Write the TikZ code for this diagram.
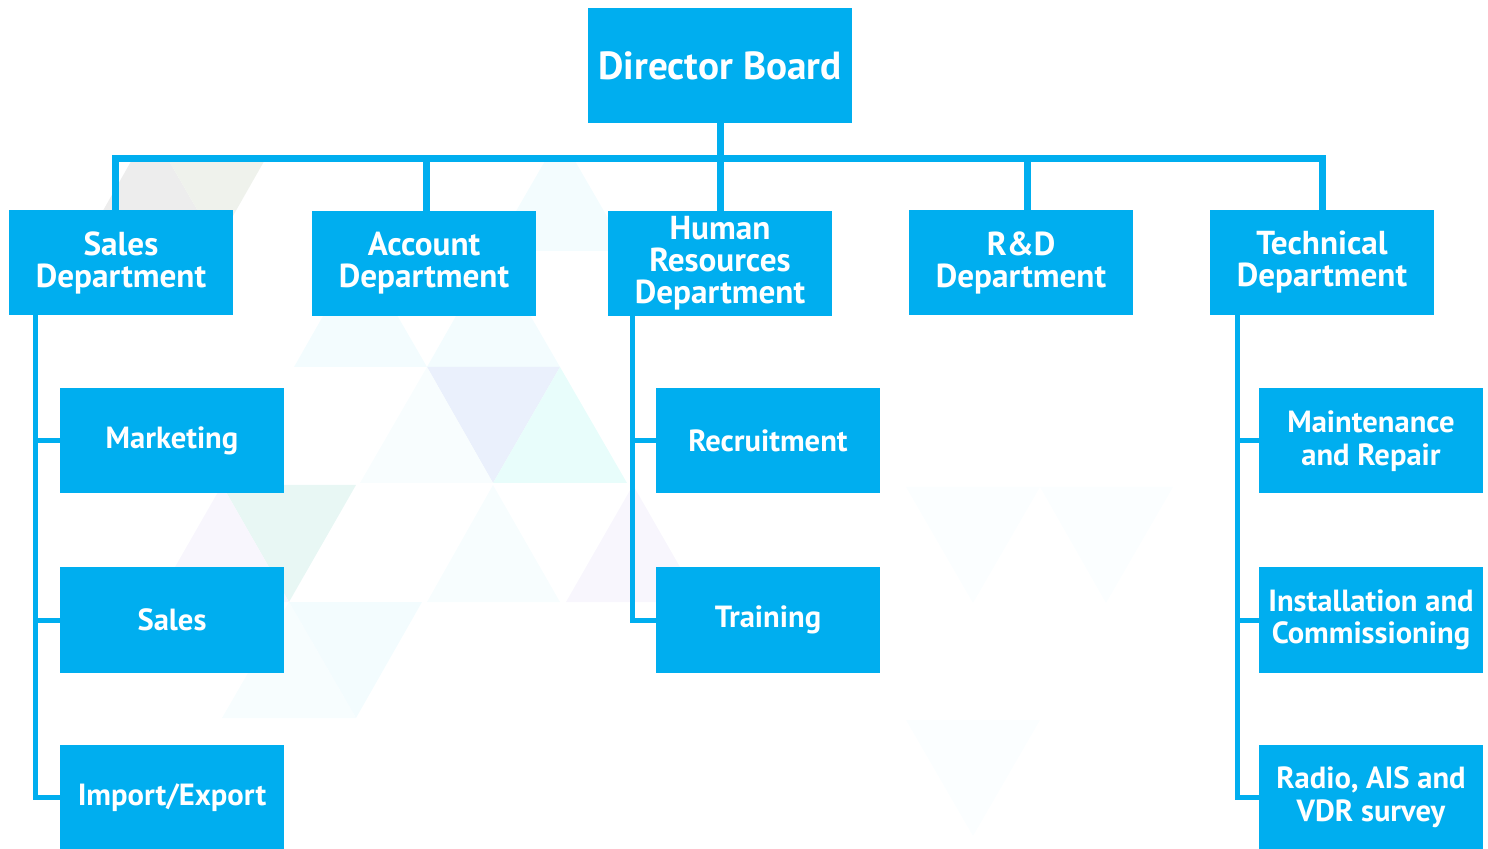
\documentclass[tikz,border=0pt]{standalone}
\usepackage{fontspec}
\setmainfont{PT Sans}
\usetikzlibrary{positioning}
\definecolor{boxblue}{HTML}{00AEEF}
\definecolor{lilac}{HTML}{EAF0FC}
\definecolor{mint}{HTML}{E8FDFB}
\definecolor{sage}{HTML}{E8F7F4}
\definecolor{mist}{HTML}{F8F6FD}
\definecolor{pale}{HTML}{F3FCFE}
\definecolor{greyA}{HTML}{EDEDED}
\definecolor{greyB}{HTML}{EFF2EC}

\begin{document}
\begin{tikzpicture}[
    x=0.5pt, y=-0.5pt,
    box/.style={%
      fill=boxblue,
      text=white,
      font=\bfseries\fontsize{16.6}{16}\selectfont,
      align=center,
      inner sep=0pt,
      minimum width=112pt,
      minimum height=52.5pt,
    },
    unit/.style={%
      box,
      font=\bfseries\fontsize{15.3}{16.3}\selectfont,
    },
    head/.style={%
      box,
      font=\bfseries\fontsize{19.6}{20}\selectfont,
      minimum width=132pt,
      minimum height=57.5pt,
    },
    link/.style={%
      draw=boxblue,
      line width=3.5pt,
    },
    spine/.style={%
      draw=boxblue,
      line width=2.5pt,
    },
  ]

    \useasboundingbox (0,0) rectangle (1488,849);

    % faint triangle pattern behind the chart
    \begin{scope}
      \clip (0,163) rectangle (1488,849);
      \fill[greyA] (84,244) -- (150,128) -- (217,244) -- cycle;
      \fill[greyB] (150,128) -- (283,128) -- (217,244) -- cycle;
      \fill[pale] (493,251) -- (560,135) -- (627,251) -- cycle;
      \fill[pale] (427,367) -- (493,251) -- (560,367) -- cycle;
      \fill[pale] (294,367) -- (360,251) -- (427,367) -- cycle;
      \fill[lilac] (427,367) -- (560,367) -- (493,483) -- cycle;
      \fill[mint] (493,483) -- (560,367) -- (627,483) -- cycle;
      \fill[pale!60] (360,483) -- (427,367) -- (493,483) -- cycle;
      \fill[sage] (222,485) -- (356,485) -- (289,602) -- cycle;
      \fill[mist] (155,602) -- (222,485) -- (289,602) -- cycle;
      \fill[mist] (566,602) -- (633,485) -- (700,602) -- cycle;
      \fill[pale!70] (427,602) -- (493,485) -- (560,602) -- cycle;
      \fill[pale] (289,602) -- (422,602) -- (356,718) -- cycle;
      \fill[pale!70] (222,718) -- (289,602) -- (356,718) -- cycle;
      \fill[pale!35] (906,487) -- (1040,487) -- (973,603) -- cycle;
      \fill[pale!35] (1040,487) -- (1173,487) -- (1106,603) -- cycle;
      \fill[pale!35] (906,720) -- (1040,720) -- (973,836) -- cycle;
    \end{scope}

    \node [head] (board) at (720,65.5) {Director Board};

    \node [box] (salesD) at (121,262.5) {Sales\\Department};
    \node [box] (acctD) at (424,263.5) {Account\\Department};
    \node [box] (hrD) at (720,263.5) {Human\\Resources\\Department};
    \node [box] (rdD) at (1021,262.5) {R\&D\\Department};
    \node [box] (techD) at (1322,262.5) {Technical\\Department};

    \node [unit] (mkt) at (172,441) {Marketing};
    \node [unit] (sal) at (172,620) {Sales};
    \node [unit] (impex) at (172,797.5) {Import/Export};

    \node [unit] (recr) at (768,441) {Recruitment};
    \node [unit] (train) at (768,620) {Training};

    \node [unit] (maint) at (1371,441) {Maintenance\\and Repair};
    \node [unit] (inst) at (1371,620) {Installation and\\Commissioning};
    \node [unit] (radio) at (1371,797.5) {Radio, AIS and\\VDR survey};

    \coordinate (bus) at (720,159);
    \coordinate (sS) at (35,400);
    \coordinate (sH) at (632,400);
    \coordinate (sT) at (1237,400);

    \draw [link] ([xshift=-3pt]salesD.north) -- ([xshift=-3pt]salesD.north |- bus) -- (techD.north |- bus) -- (techD.north);
    \draw [link] (board.south) -- (hrD.north);
    \draw [link] ([xshift=1pt]acctD.north) -- ([xshift=1pt]acctD.north |- bus);
    \draw [link] ([xshift=3pt]rdD.north) -- ([xshift=3pt]rdD.north |- bus);

    \draw [spine] (salesD.south -| sS) |- (impex.west);
    \draw [spine] (hrD.south -| sH) |- (train.west);
    \draw [spine] (techD.south -| sT) |- (radio.west);
    \foreach \c in {mkt,sal}
      \draw [spine] (\c.west) -- (\c.west -| sS);
    \draw [spine] (recr.west) -- (recr.west -| sH);
    \foreach \c in {maint,inst}
      \draw [spine] (\c.west) -- (\c.west -| sT);
\end{tikzpicture}
\end{document}
